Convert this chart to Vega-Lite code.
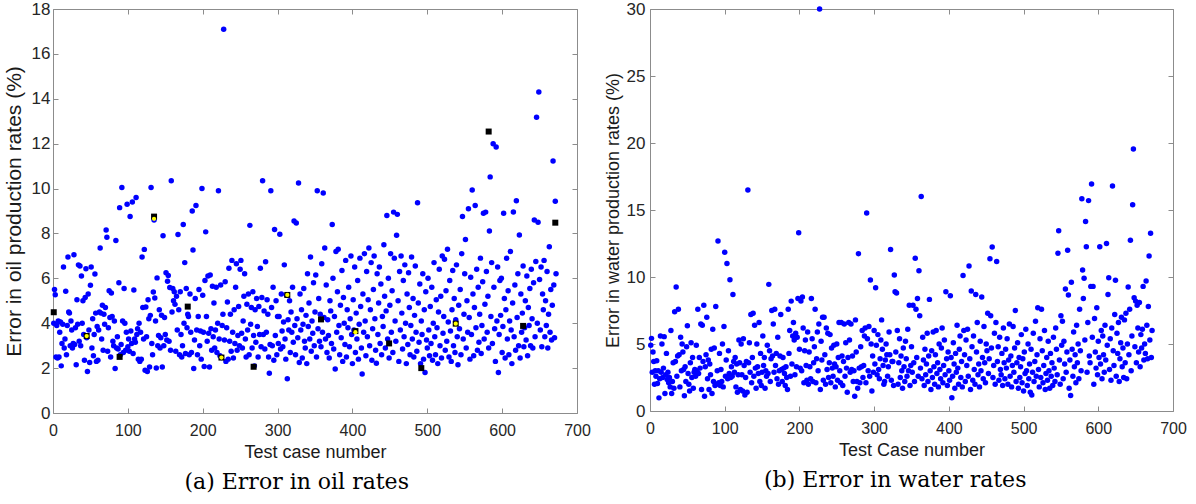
{
"$schema": "https://vega.github.io/schema/vega-lite/v6.json",
"padding": {"left": 2, "top": -1, "right": 5, "bottom": 3},
"background": "white",
"config": {
  "font": "Liberation Sans",
  "view": {"stroke": "#8c8c8c", "strokeWidth": 1},
  "axis": {"domain": false, "grid": false, "labelFlush": false, "labelOverlap": false, "tickColor": "#8c8c8c", "tickSize": -5, "labelFont": "Liberation Sans", "labelFontSize": 16, "labelColor": "#262626", "titleFont": "Liberation Sans", "titleFontSize": 18, "titleFontWeight": "normal", "titleColor": "#1a1a1a"},
  "title": {"font": "DejaVu Serif", "fontSize": 22, "fontWeight": "normal", "color": "black"}
},
"datasets": {
"marked": [{"n":1,"e":4.49},{"n":45,"e":3.43},{"n":89,"e":2.5},{"n":135,"e":8.75},{"n":180,"e":4.74},{"n":225,"e":2.47},{"n":268,"e":2.06},{"n":313,"e":5.26},{"n":358,"e":4.17},{"n":404,"e":3.65},{"n":449,"e":3.1},{"n":492,"e":2.0},{"n":538,"e":3.98},{"n":582,"e":12.54},{"n":628,"e":3.88},{"n":671,"e":8.48}],
"yellow": [{"n":45,"e":3.43},{"n":135,"e":8.65},{"n":225,"e":2.47},{"n":313,"e":5.26},{"n":404,"e":3.6},{"n":538,"e":3.98}],
"cases": [
{"n":1,"oil":4.0,"water":4.9},{"n":2,"oil":5.5,"water":5.42},{"n":3,"oil":5.27,"water":2.9},{"n":4,"oil":2.5,"water":4.4},{"n":5,"oil":3.9,"water":3.7},{"n":6,"oil":2.45,"water":2.0},{"n":7,"oil":4.1,"water":3.0},{"n":8,"oil":2.5,"water":2.6},{"n":9,"oil":3.6,"water":3.75},{"n":10,"oil":4.05,"water":2.05},
{"n":11,"oil":2.1,"water":3.0},{"n":12,"oil":3.1,"water":0.98},{"n":13,"oil":3.95,"water":2.4},{"n":14,"oil":6.5,"water":5.6},{"n":15,"oil":2.9,"water":2.9},{"n":16,"oil":3.3,"water":5.0},{"n":17,"oil":5.42,"water":2.5},{"n":18,"oil":2.6,"water":3.2},{"n":19,"oil":3.9,"water":5.55},{"n":20,"oil":6.95,"water":1.3},
{"n":21,"oil":4.5,"water":2.7},{"n":22,"oil":4.45,"water":4.3},{"n":23,"oil":3.0,"water":2.35},{"n":24,"oil":4.1,"water":2.9},{"n":25,"oil":3.7,"water":2.1},{"n":26,"oil":2.9,"water":2.5},{"n":27,"oil":3.1,"water":1.8},{"n":28,"oil":7.05,"water":6.0},{"n":29,"oil":3.05,"water":1.3},{"n":30,"oil":3.8,"water":2.2},
{"n":31,"oil":2.15,"water":3.6},{"n":32,"oil":5.05,"water":1.7},{"n":33,"oil":3.95,"water":7.4},{"n":34,"oil":6.6,"water":3.7},{"n":35,"oil":3.2,"water":9.25},{"n":36,"oil":6.55,"water":2.6},{"n":37,"oil":3.0,"water":4.1},{"n":38,"oil":6.1,"water":7.6},{"n":39,"oil":4.0,"water":4.2},{"n":40,"oil":5.0,"water":1.8},
{"n":41,"oil":3.5,"water":5.5},{"n":42,"oil":2.35,"water":3.0},{"n":43,"oil":5.15,"water":5.0},{"n":44,"oil":6.43,"water":4.4},{"n":45,"oil":3.35,"water":3.1},{"n":46,"oil":1.85,"water":1.14},{"n":47,"oil":5.3,"water":3.3},{"n":48,"oil":3.7,"water":2.2},{"n":49,"oil":2.25,"water":4.8},{"n":50,"oil":5.69,"water":6.37},
{"n":51,"oil":6.5,"water":2.8},{"n":52,"oil":2.9,"water":2.0},{"n":53,"oil":4.2,"water":1.5},{"n":54,"oil":2.55,"water":3.6},{"n":55,"oil":3.5,"water":5.1},{"n":56,"oil":6.19,"water":2.5},{"n":57,"oil":4.45,"water":4.0},{"n":58,"oil":2.3,"water":1.7},{"n":59,"oil":3.85,"water":2.9},{"n":60,"oil":2.35,"water":3.1},
{"n":61,"oil":3.7,"water":2.6},{"n":62,"oil":4.5,"water":4.9},{"n":63,"oil":7.35,"water":3.0},{"n":64,"oil":4.45,"water":7.6},{"n":65,"oil":3.3,"water":2.8},{"n":66,"oil":4.8,"water":4.0},{"n":67,"oil":2.8,"water":3.2},{"n":68,"oil":4.4,"water":6.5},{"n":69,"oil":3.95,"water":1.6},{"n":70,"oil":4.7,"water":6.4},
{"n":71,"oil":8.15,"water":3.7},{"n":72,"oil":7.83,"water":7.9},{"n":73,"oil":2.75,"water":1.1},{"n":74,"oil":3.8,"water":3.3},{"n":75,"oil":5.45,"water":4.2},{"n":76,"oil":4.25,"water":7.0},{"n":77,"oil":2.5,"water":2.4},{"n":78,"oil":5.35,"water":3.8},{"n":79,"oil":4.3,"water":1.6},{"n":80,"oil":3.2,"water":3.5},
{"n":81,"oil":3.0,"water":2.7},{"n":82,"oil":4.1,"water":4.6},{"n":83,"oil":1.98,"water":1.3},{"n":84,"oil":7.69,"water":6.1},{"n":85,"oil":2.9,"water":2.2},{"n":86,"oil":3.4,"water":4.7},{"n":87,"oil":2.85,"water":1.9},{"n":88,"oil":5.8,"water":7.8},{"n":89,"oil":9.15,"water":2.0},{"n":90,"oil":2.6,"water":3.0},
{"n":91,"oil":3.05,"water":12.69},{"n":92,"oil":10.05,"water":2.1},{"n":93,"oil":4.1,"water":4.3},{"n":94,"oil":2.7,"water":1.9},{"n":95,"oil":5.55,"water":3.1},{"n":96,"oil":4.0,"water":2.2},{"n":97,"oil":2.8,"water":5.0},{"n":98,"oil":3.6,"water":1.8},{"n":99,"oil":9.3,"water":6.3},{"n":100,"oil":2.95,"water":11.84},
{"n":101,"oil":3.3,"water":2.6},{"n":102,"oil":2.75,"water":3.8},{"n":103,"oil":8.75,"water":11.0},{"n":104,"oil":3.65,"water":2.4},{"n":105,"oil":3.1,"water":4.5},{"n":106,"oil":9.4,"water":2.8},{"n":107,"oil":2.65,"water":9.8},{"n":108,"oil":5.48,"water":2.5},{"n":109,"oil":3.3,"water":3.3},{"n":110,"oil":3.15,"water":2.6},
{"n":111,"oil":9.6,"water":8.7},{"n":112,"oil":3.5,"water":3.7},{"n":113,"oil":3.75,"water":2.9},{"n":114,"oil":2.4,"water":4.0},{"n":115,"oil":4.0,"water":1.8},{"n":116,"oil":2.3,"water":3.5},{"n":117,"oil":3.6,"water":1.4},{"n":118,"oil":2.4,"water":2.7},{"n":119,"oil":6.95,"water":5.3},{"n":120,"oil":4.7,"water":3.6},
{"n":121,"oil":3.3,"water":1.6},{"n":122,"oil":7.29,"water":5.0},{"n":123,"oil":1.9,"water":2.7},{"n":124,"oil":4.72,"water":1.5},{"n":125,"oil":3.4,"water":5.4},{"n":126,"oil":1.85,"water":3.4},{"n":127,"oil":5.05,"water":1.2},{"n":128,"oil":4.2,"water":2.5},{"n":129,"oil":2.05,"water":3.7},{"n":130,"oil":4.35,"water":1.4},
{"n":131,"oil":10.05,"water":16.5},{"n":132,"oil":3.1,"water":3.6},{"n":133,"oil":2.6,"water":5.1},{"n":134,"oil":5.39,"water":2.9},{"n":135,"oil":8.6,"water":7.2},{"n":136,"oil":5.12,"water":2.1},{"n":137,"oil":4.1,"water":4.0},{"n":138,"oil":2.0,"water":7.3},{"n":139,"oil":6.02,"water":2.6},{"n":140,"oil":3.0,"water":6.4},
{"n":141,"oil":3.45,"water":3.2},{"n":142,"oil":4.6,"water":1.7},{"n":143,"oil":2.9,"water":5.0},{"n":144,"oil":3.35,"water":3.3},{"n":145,"oil":4.36,"water":2.8},{"n":146,"oil":2.05,"water":6.6},{"n":147,"oil":7.9,"water":2.2},{"n":148,"oil":3.0,"water":4.3},{"n":149,"oil":4.25,"water":1.9},{"n":150,"oil":3.5,"water":2.9},
{"n":151,"oil":6.25,"water":5.6},{"n":152,"oil":3.25,"water":3.4},{"n":153,"oil":5.87,"water":4.0},{"n":154,"oil":6.13,"water":1.7},{"n":155,"oil":3.2,"water":3.0},{"n":156,"oil":5.59,"water":2.6},{"n":157,"oil":2.8,"water":4.9},{"n":158,"oil":10.35,"water":2.8},{"n":159,"oil":4.5,"water":9.45},{"n":160,"oil":5.55,"water":4.5},
{"n":161,"oil":5.0,"water":2.2},{"n":162,"oil":5.4,"water":3.9},{"n":163,"oil":4.84,"water":7.5},{"n":164,"oil":2.75,"water":4.1},{"n":165,"oil":5.2,"water":6.5},{"n":166,"oil":3.7,"water":2.9},{"n":167,"oil":7.95,"water":7.6},{"n":168,"oil":4.6,"water":3.4},{"n":169,"oil":2.6,"water":4.3},{"n":170,"oil":5.4,"water":2.4},
{"n":171,"oil":3.5,"water":5.5},{"n":172,"oil":2.5,"water":2.0},{"n":173,"oil":3.0,"water":3.0},{"n":174,"oil":8.4,"water":4.1},{"n":175,"oil":4.0,"water":7.2},{"n":176,"oil":6.7,"water":3.1},{"n":177,"oil":2.65,"water":2.2},{"n":178,"oil":5.55,"water":4.0},{"n":179,"oil":3.8,"water":3.2},{"n":180,"oil":4.4,"water":2.8},
{"n":181,"oil":4.3,"water":1.9},{"n":182,"oil":2.6,"water":3.3},{"n":183,"oil":5.3,"water":2.5},{"n":184,"oil":3.6,"water":1.6},{"n":185,"oil":2.7,"water":7.6},{"n":186,"oil":9.0,"water":4.3},{"n":187,"oil":7.26,"water":6.0},{"n":188,"oil":1.98,"water":2.6},{"n":189,"oil":3.25,"water":8.2},{"n":190,"oil":5.1,"water":3.5},
{"n":191,"oil":9.25,"water":5.6},{"n":192,"oil":3.7,"water":6.6},{"n":193,"oil":2.6,"water":5.3},{"n":194,"oil":4.3,"water":2.7},{"n":195,"oil":5.5,"water":5.8},{"n":196,"oil":3.0,"water":3.3},{"n":197,"oil":3.65,"water":5.5},{"n":198,"oil":2.4,"water":8.4},{"n":199,"oil":10.0,"water":13.3},{"n":200,"oil":5.25,"water":4.6},
{"n":201,"oil":3.6,"water":3.2},{"n":202,"oil":2.07,"water":8.2},{"n":203,"oil":5.9,"water":3.0},{"n":204,"oil":8.07,"water":8.5},{"n":205,"oil":4.3,"water":6.2},{"n":206,"oil":3.2,"water":2.1},{"n":207,"oil":6.1,"water":4.5},{"n":208,"oil":3.55,"water":5.3},{"n":209,"oil":2.05,"water":3.4},{"n":210,"oil":6.15,"water":2.3},
{"n":211,"oil":3.75,"water":5.9},{"n":212,"oil":2.8,"water":2.0},{"n":213,"oil":5.65,"water":4.4},{"n":214,"oil":3.4,"water":3.3},{"n":215,"oil":4.9,"water":2.4},{"n":216,"oil":2.9,"water":8.4},{"n":217,"oil":3.7,"water":5.4},{"n":218,"oil":5.6,"water":2.2},{"n":219,"oil":2.7,"water":3.6},{"n":220,"oil":4.0,"water":4.8},
{"n":221,"oil":9.9,"water":7.6},{"n":222,"oil":3.3,"water":2.1},{"n":223,"oil":2.55,"water":3.9},{"n":224,"oil":5.7,"water":5.9},{"n":225,"oil":2.47,"water":3.0},{"n":226,"oil":3.9,"water":6.5},{"n":227,"oil":4.4,"water":30.0},{"n":228,"oil":17.1,"water":1.6},{"n":229,"oil":3.25,"water":5.2},{"n":230,"oil":5.85,"water":3.8},
{"n":231,"oil":2.3,"water":7.0},{"n":232,"oil":3.8,"water":2.3},{"n":233,"oil":4.95,"water":7.0},{"n":234,"oil":2.4,"water":4.2},{"n":235,"oil":6.45,"water":2.0},{"n":236,"oil":3.2,"water":6.2},{"n":237,"oil":4.4,"water":3.1},{"n":238,"oil":2.75,"water":5.8},{"n":239,"oil":6.8,"water":2.5},{"n":240,"oil":3.6,"water":3.6},
{"n":241,"oil":2.45,"water":5.7},{"n":242,"oil":4.6,"water":2.1},{"n":243,"oil":3.1,"water":4.7},{"n":244,"oil":5.6,"water":3.2},{"n":245,"oil":6.65,"water":2.6},{"n":246,"oil":2.8,"water":4.9},{"n":247,"oil":3.45,"water":3.5},{"n":248,"oil":4.75,"water":1.8},{"n":249,"oil":3.0,"water":3.3},{"n":250,"oil":6.4,"water":5.0},
{"n":251,"oil":6.8,"water":2.3},{"n":252,"oil":3.55,"water":4.0},{"n":253,"oil":2.9,"water":6.6},{"n":254,"oil":4.1,"water":3.0},{"n":255,"oil":5.2,"water":2.1},{"n":256,"oil":6.2,"water":6.6},{"n":257,"oil":3.3,"water":4.1},{"n":258,"oil":2.5,"water":1.9},{"n":259,"oil":4.85,"water":3.7},{"n":260,"oil":3.7,"water":6.5},
{"n":261,"oil":5.3,"water":2.6},{"n":262,"oil":2.6,"water":5.1},{"n":263,"oil":8.36,"water":3.2},{"n":264,"oil":3.95,"water":1.4},{"n":265,"oil":4.7,"water":4.0},{"n":266,"oil":2.9,"water":6.6},{"n":267,"oil":5.4,"water":5.3},{"n":268,"oil":3.45,"water":2.9},{"n":269,"oil":2.1,"water":6.5},{"n":270,"oil":4.6,"water":3.1},
{"n":271,"oil":3.15,"water":4.1},{"n":272,"oil":5.1,"water":2.2},{"n":273,"oil":3.85,"water":3.0},{"n":274,"oil":2.5,"water":1.1},{"n":275,"oil":4.75,"water":6.8},{"n":276,"oil":3.5,"water":4.4},{"n":277,"oil":6.45,"water":2.2},{"n":278,"oil":2.95,"water":1.7},{"n":279,"oil":5.15,"water":11.74},{"n":280,"oil":10.35,"water":3.2},
{"n":281,"oil":3.5,"water":2.1},{"n":282,"oil":4.55,"water":4.8},{"n":283,"oil":2.85,"water":3.3},{"n":284,"oil":6.74,"water":6.0},{"n":285,"oil":3.6,"water":2.5},{"n":286,"oil":5.05,"water":3.4},{"n":287,"oil":4.4,"water":5.6},{"n":288,"oil":2.5,"water":6.2},{"n":289,"oil":1.77,"water":2.1},{"n":290,"oil":3.05,"water":14.78},
{"n":291,"oil":9.9,"water":5.4},{"n":292,"oil":4.7,"water":3.0},{"n":293,"oil":3.0,"water":6.3},{"n":294,"oil":5.6,"water":2.6},{"n":295,"oil":2.35,"water":9.78},{"n":296,"oil":8.18,"water":5.0},{"n":297,"oil":3.45,"water":1.5},{"n":298,"oil":5.0,"water":4.1},{"n":299,"oil":2.6,"water":2.9},{"n":300,"oil":4.3,"water":6.0},
{"n":301,"oil":3.1,"water":3.5},{"n":302,"oil":4.3,"water":9.2},{"n":303,"oil":7.96,"water":4.9},{"n":304,"oil":2.85,"water":2.7},{"n":305,"oil":5.3,"water":5.7},{"n":306,"oil":3.65,"water":3.1},{"n":307,"oil":2.95,"water":2.4},{"n":308,"oil":4.05,"water":3.9},{"n":309,"oil":6.6,"water":5.3},{"n":310,"oil":3.3,"water":6.8},
{"n":311,"oil":2.4,"water":4.6},{"n":312,"oil":5.25,"water":3.4},{"n":313,"oil":1.53,"water":2.0},{"n":314,"oil":4.15,"water":2.2},{"n":315,"oil":3.7,"water":3.8},{"n":316,"oil":5.0,"water":5.0},{"n":317,"oil":2.7,"water":4.2},{"n":318,"oil":4.5,"water":2.6},{"n":319,"oil":3.6,"water":3.3},{"n":320,"oil":5.6,"water":5.9},
{"n":321,"oil":3.15,"water":4.2},{"n":322,"oil":8.55,"water":12.06},{"n":323,"oil":3.9,"water":2.3},{"n":324,"oil":2.6,"water":3.7},{"n":325,"oil":8.47,"water":3.7},{"n":326,"oil":4.2,"water":1.9},{"n":327,"oil":3.35,"water":10.15},{"n":328,"oil":10.25,"water":8.9},{"n":329,"oil":2.25,"water":4.4},{"n":330,"oil":5.3,"water":8.8},
{"n":331,"oil":3.7,"water":6.0},{"n":332,"oil":4.6,"water":2.0},{"n":333,"oil":2.45,"water":3.6},{"n":334,"oil":3.95,"water":5.4},{"n":335,"oil":5.55,"water":2.5},{"n":336,"oil":3.2,"water":4.1},{"n":337,"oil":2.9,"water":3.0},{"n":338,"oil":4.35,"water":1.7},{"n":339,"oil":2.2,"water":4.7},{"n":340,"oil":6.2,"water":3.3},
{"n":341,"oil":3.85,"water":2.2},{"n":342,"oil":4.9,"water":5.2},{"n":343,"oil":3.3,"water":3.9},{"n":344,"oil":6.95,"water":2.6},{"n":345,"oil":2.75,"water":6.1},{"n":346,"oil":4.1,"water":3.0},{"n":347,"oil":3.55,"water":7.9},{"n":348,"oil":5.8,"water":1.9},{"n":349,"oil":3.0,"water":3.4},{"n":350,"oil":4.5,"water":4.8},
{"n":351,"oil":6.15,"water":2.9},{"n":352,"oil":2.5,"water":7.9},{"n":353,"oil":9.9,"water":3.6},{"n":354,"oil":3.75,"water":2.2},{"n":355,"oil":5.1,"water":11.4},{"n":356,"oil":3.2,"water":7.6},{"n":357,"oil":4.4,"water":4.0},{"n":358,"oil":2.95,"water":8.4},{"n":359,"oil":6.65,"water":2.6},{"n":360,"oil":3.6,"water":10.47},
{"n":361,"oil":9.8,"water":7.1},{"n":362,"oil":4.25,"water":3.2},{"n":363,"oil":7.35,"water":16.0},{"n":364,"oil":3.3,"water":2.4},{"n":365,"oil":5.7,"water":5.5},{"n":366,"oil":2.7,"water":3.8},{"n":367,"oil":4.15,"water":1.9},{"n":368,"oil":3.45,"water":4.6},{"n":369,"oil":2.45,"water":2.7},{"n":370,"oil":5.0,"water":3.5},
{"n":371,"oil":4.55,"water":5.8},{"n":372,"oil":3.1,"water":2.2},{"n":373,"oil":8.4,"water":4.1},{"n":374,"oil":6.0,"water":8.33},{"n":375,"oil":2.85,"water":3.0},{"n":376,"oil":4.3,"water":1.6},{"n":377,"oil":1.96,"water":4.5},{"n":378,"oil":7.2,"water":2.5},{"n":379,"oil":3.6,"water":5.9},{"n":380,"oil":5.4,"water":3.3},
{"n":381,"oil":7.3,"water":2.0},{"n":382,"oil":3.9,"water":4.2},{"n":383,"oil":2.6,"water":6.0},{"n":384,"oil":4.8,"water":2.8},{"n":385,"oil":3.35,"water":3.6},{"n":386,"oil":6.35,"water":1.8},{"n":387,"oil":2.3,"water":5.0},{"n":388,"oil":5.15,"water":3.1},{"n":389,"oil":4.0,"water":2.4},{"n":390,"oil":3.05,"water":4.7},
{"n":391,"oil":6.8,"water":6.2},{"n":392,"oil":2.5,"water":2.1},{"n":393,"oil":4.6,"water":3.4},{"n":394,"oil":3.8,"water":5.3},{"n":395,"oil":5.6,"water":2.7},{"n":396,"oil":2.95,"water":8.9},{"n":397,"oil":4.2,"water":3.9},{"n":398,"oil":7.0,"water":1.9},{"n":399,"oil":3.5,"water":4.4},{"n":400,"oil":2.2,"water":3.0},
{"n":401,"oil":5.05,"water":2.3},{"n":402,"oil":3.7,"water":8.6},{"n":403,"oil":6.5,"water":4.0},{"n":404,"oil":2.7,"water":0.99},{"n":405,"oil":4.45,"water":2.6},{"n":406,"oil":3.3,"water":5.1},{"n":407,"oil":5.9,"water":3.5},{"n":408,"oil":2.4,"water":1.7},{"n":409,"oil":3.95,"water":4.3},{"n":410,"oil":6.9,"water":2.9},
{"n":411,"oil":4.75,"water":6.4},{"n":412,"oil":2.9,"water":3.2},{"n":413,"oil":1.74,"water":2.0},{"n":414,"oil":5.3,"water":4.6},{"n":415,"oil":3.6,"water":5.6},{"n":416,"oil":7.1,"water":2.5},{"n":417,"oil":4.1,"water":3.7},{"n":418,"oil":2.55,"water":1.8},{"n":419,"oil":6.3,"water":10.12},{"n":420,"oil":3.4,"water":6.0},
{"n":421,"oil":5.05,"water":4.2},{"n":422,"oil":7.35,"water":2.2},{"n":423,"oil":3.0,"water":5.3},{"n":424,"oil":4.6,"water":3.4},{"n":425,"oil":6.7,"water":6.1},{"n":426,"oil":2.35,"water":2.6},{"n":427,"oil":3.75,"water":10.82},{"n":428,"oil":5.5,"water":3.9},{"n":429,"oil":7.0,"water":1.6},{"n":430,"oil":4.2,"water":8.96},
{"n":431,"oil":2.8,"water":4.8},{"n":432,"oil":2.22,"water":2.3},{"n":433,"oil":6.2,"water":5.6},{"n":434,"oil":3.5,"water":3.1},{"n":435,"oil":4.9,"water":2.0},{"n":436,"oil":6.5,"water":8.7},{"n":437,"oil":3.1,"water":4.4},{"n":438,"oil":5.75,"water":6.6},{"n":439,"oil":2.6,"water":2.7},{"n":440,"oil":4.3,"water":3.5},
{"n":441,"oil":3.85,"water":1.8},{"n":442,"oil":7.5,"water":5.2},{"n":443,"oil":5.2,"water":3.0},{"n":444,"oil":2.9,"water":8.5},{"n":445,"oil":4.55,"water":4.0},{"n":446,"oil":8.8,"water":2.4},{"n":447,"oil":3.3,"water":6.3},{"n":448,"oil":6.0,"water":3.6},{"n":449,"oil":2.45,"water":2.1},{"n":450,"oil":4.8,"water":5.0},
{"n":451,"oil":7.1,"water":4.5},{"n":452,"oil":3.6,"water":7.3},{"n":453,"oil":5.45,"water":2.8},{"n":454,"oil":2.7,"water":3.9},{"n":455,"oil":8.95,"water":11.37},{"n":456,"oil":6.9,"water":7.1},{"n":457,"oil":4.1,"water":4.7},{"n":458,"oil":3.2,"water":12.24},{"n":459,"oil":7.92,"water":2.5},{"n":460,"oil":8.85,"water":3.4},
{"n":461,"oil":5.0,"water":5.8},{"n":462,"oil":2.3,"water":2.0},{"n":463,"oil":6.3,"water":6.6},{"n":464,"oil":3.7,"water":11.15},{"n":465,"oil":7.0,"water":3.7},{"n":466,"oil":4.45,"water":4.8},{"n":467,"oil":2.85,"water":2.3},{"n":468,"oil":5.9,"water":5.5},{"n":469,"oil":3.4,"water":3.1},{"n":470,"oil":6.6,"water":2.7},
{"n":471,"oil":4.0,"water":4.3},{"n":472,"oil":2.2,"water":1.9},{"n":473,"oil":5.3,"water":6.2},{"n":474,"oil":3.05,"water":3.6},{"n":475,"oil":6.25,"water":2.4},{"n":476,"oil":4.7,"water":4.6},{"n":477,"oil":2.6,"water":3.2},{"n":478,"oil":3.9,"water":5.4},{"n":479,"oil":6.95,"water":2.0},{"n":480,"oil":3.3,"water":3.8},
{"n":481,"oil":5.1,"water":6.5},{"n":482,"oil":2.5,"water":2.6},{"n":483,"oil":4.35,"water":4.1},{"n":484,"oil":6.55,"water":1.8},{"n":485,"oil":3.6,"water":3.4},{"n":486,"oil":2.75,"water":6.3},{"n":487,"oil":9.37,"water":2.9},{"n":488,"oil":4.9,"water":4.7},{"n":489,"oil":3.15,"water":7.5},{"n":490,"oil":5.75,"water":2.2},
{"n":491,"oil":2.2,"water":3.6},{"n":492,"oil":4.1,"water":5.1},{"n":493,"oil":3.5,"water":1.7},{"n":494,"oil":6.2,"water":4.0},{"n":495,"oil":2.4,"water":2.5},{"n":496,"oil":4.6,"water":3.3},{"n":497,"oil":1.8,"water":5.7},{"n":498,"oil":5.4,"water":2.1},{"n":499,"oil":3.25,"water":3.9},{"n":500,"oil":2.9,"water":1.5},
{"n":501,"oil":6.0,"water":4.4},{"n":502,"oil":3.7,"water":2.8},{"n":503,"oil":2.55,"water":6.1},{"n":504,"oil":4.75,"water":3.0},{"n":505,"oil":3.1,"water":1.9},{"n":506,"oil":5.6,"water":5.0},{"n":507,"oil":2.35,"water":2.4},{"n":508,"oil":4.0,"water":3.5},{"n":509,"oil":6.7,"water":1.4},{"n":510,"oil":3.4,"water":4.6},
{"n":511,"oil":2.6,"water":1.2},{"n":512,"oil":5.05,"water":2.9},{"n":513,"oil":3.8,"water":5.8},{"n":514,"oil":2.2,"water":2.2},{"n":515,"oil":4.5,"water":3.7},{"n":516,"oil":6.4,"water":6.7},{"n":517,"oil":3.0,"water":2.6},{"n":518,"oil":5.2,"water":4.2},{"n":519,"oil":2.45,"water":7.7},{"n":520,"oil":7.0,"water":3.1},
{"n":521,"oil":3.55,"water":1.8},{"n":522,"oil":4.3,"water":5.4},{"n":523,"oil":6.85,"water":2.5},{"n":524,"oil":2.8,"water":7.6},{"n":525,"oil":5.45,"water":4.5},{"n":526,"oil":3.2,"water":2.1},{"n":527,"oil":7.3,"water":3.4},{"n":528,"oil":4.05,"water":6.0},{"n":529,"oil":2.5,"water":1.6},{"n":530,"oil":5.9,"water":2.8},
{"n":531,"oil":3.65,"water":4.0},{"n":532,"oil":2.3,"water":2.3},{"n":533,"oil":4.6,"water":5.2},{"n":534,"oil":6.35,"water":3.0},{"n":535,"oil":3.0,"water":1.7},{"n":536,"oil":5.1,"water":4.3},{"n":537,"oil":2.7,"water":2.6},{"n":538,"oil":4.15,"water":3.6},{"n":539,"oil":6.6,"water":1.9},{"n":540,"oil":3.4,"water":5.5},
{"n":541,"oil":2.15,"water":3.2},{"n":542,"oil":4.8,"water":2.2},{"n":543,"oil":3.75,"water":6.2},{"n":544,"oil":5.5,"water":4.6},{"n":545,"oil":2.6,"water":2.7},{"n":546,"oil":7.1,"water":11.77},{"n":547,"oil":8.76,"water":13.46},{"n":548,"oil":3.3,"water":3.8},{"n":549,"oil":4.4,"water":2.0},{"n":550,"oil":6.2,"water":7.1},
{"n":551,"oil":7.73,"water":4.9},{"n":552,"oil":2.9,"water":6.7},{"n":553,"oil":5.0,"water":2.4},{"n":554,"oil":3.6,"water":5.2},{"n":555,"oil":9.1,"water":3.5},{"n":556,"oil":4.25,"water":9.1},{"n":557,"oil":2.4,"water":2.9},{"n":558,"oil":6.05,"water":4.4},{"n":559,"oil":3.5,"water":11.99},{"n":560,"oil":9.94,"water":8.66},
{"n":561,"oil":5.3,"water":1.7},{"n":562,"oil":2.55,"water":3.8},{"n":563,"oil":4.7,"water":1.15},{"n":564,"oil":9.24,"water":9.6},{"n":565,"oil":3.8,"water":4.6},{"n":566,"oil":6.4,"water":2.6},{"n":567,"oil":2.8,"water":5.9},{"n":568,"oil":5.6,"water":3.3},{"n":569,"oil":3.15,"water":4.2},{"n":570,"oil":4.4,"water":2.1},
{"n":571,"oil":6.9,"water":6.4},{"n":572,"oil":2.65,"water":3.6},{"n":573,"oil":3.9,"water":5.0},{"n":574,"oil":5.85,"water":2.4},{"n":575,"oil":8.9,"water":7.6},{"n":576,"oil":3.3,"water":4.5},{"n":577,"oil":4.85,"water":3.0},{"n":578,"oil":8.95,"water":15.84},{"n":579,"oil":6.3,"water":10.52},{"n":580,"oil":3.6,"water":8.4},
{"n":581,"oil":5.2,"water":9.9},{"n":582,"oil":2.9,"water":5.3},{"n":583,"oil":8.11,"water":14.15},{"n":584,"oil":10.52,"water":12.26},{"n":585,"oil":4.3,"water":2.9},{"n":586,"oil":6.7,"water":6.6},{"n":587,"oil":3.1,"water":15.7},{"n":588,"oil":12.0,"water":4.1},{"n":589,"oil":5.6,"water":3.6},{"n":590,"oil":3.75,"water":9.3},
{"n":591,"oil":2.3,"water":16.94},{"n":592,"oil":11.85,"water":5.5},{"n":593,"oil":4.1,"water":9.3},{"n":594,"oil":6.5,"water":2.0},{"n":595,"oil":1.8,"water":6.9},{"n":596,"oil":3.5,"water":4.4},{"n":597,"oil":5.9,"water":3.2},{"n":598,"oil":4.35,"water":7.7},{"n":599,"oil":6.0,"water":2.7},{"n":600,"oil":2.7,"water":5.2},
{"n":601,"oil":3.85,"water":4.0},{"n":602,"oil":8.9,"water":12.26},{"n":603,"oil":5.1,"water":3.5},{"n":604,"oil":2.45,"water":6.0},{"n":605,"oil":4.6,"water":2.4},{"n":606,"oil":6.89,"water":5.6},{"n":607,"oil":3.3,"water":4.2},{"n":608,"oil":5.45,"water":2.9},{"n":609,"oil":2.6,"water":6.4},{"n":610,"oil":4.1,"water":3.8},
{"n":611,"oil":7.2,"water":12.5},{"n":612,"oil":3.7,"water":4.9},{"n":613,"oil":2.2,"water":8.7},{"n":614,"oil":4.9,"water":9.95},{"n":615,"oil":8.96,"water":3.1},{"n":616,"oil":3.4,"water":5.4},{"n":617,"oil":5.7,"water":2.3},{"n":618,"oil":2.8,"water":6.2},{"n":619,"oil":9.46,"water":16.79},{"n":620,"oil":4.25,"water":4.5},
{"n":621,"oil":6.2,"water":3.4},{"n":622,"oil":3.0,"water":7.2},{"n":623,"oil":7.93,"water":9.75},{"n":624,"oil":2.45,"water":2.6},{"n":625,"oil":5.3,"water":5.8},{"n":626,"oil":3.6,"water":4.3},{"n":627,"oil":4.45,"water":6.6},{"n":628,"oil":6.55,"water":2.2},{"n":629,"oil":2.95,"water":3.9},{"n":630,"oil":3.8,"water":5.1},
{"n":631,"oil":5.0,"water":7.0},{"n":632,"oil":3.25,"water":3.3},{"n":633,"oil":6.1,"water":4.7},{"n":634,"oil":2.55,"water":2.5},{"n":635,"oil":4.7,"water":6.8},{"n":636,"oil":3.9,"water":3.6},{"n":637,"oil":5.55,"water":7.3},{"n":638,"oil":3.0,"water":2.4},{"n":639,"oil":6.4,"water":5.0},{"n":640,"oil":4.2,"water":9.25},
{"n":641,"oil":2.9,"water":4.2},{"n":642,"oil":5.8,"water":7.6},{"n":643,"oil":8.6,"water":12.74},{"n":644,"oil":3.4,"water":3.0},{"n":645,"oil":6.75,"water":5.6},{"n":646,"oil":13.18,"water":15.4},{"n":647,"oil":4.0,"water":19.55},{"n":648,"oil":8.5,"water":8.45},{"n":649,"oil":14.3,"water":4.8},{"n":650,"oil":5.95,"water":8.2},
{"n":651,"oil":3.7,"water":3.6},{"n":652,"oil":6.5,"water":7.9},{"n":653,"oil":2.95,"water":6.2},{"n":654,"oil":5.3,"water":4.4},{"n":655,"oil":4.6,"water":8.1},{"n":656,"oil":6.8,"water":3.3},{"n":657,"oil":3.4,"water":5.7},{"n":658,"oil":5.0,"water":4.7},{"n":659,"oil":3.9,"water":6.1},{"n":660,"oil":6.3,"water":9.3},
{"n":661,"oil":2.9,"water":3.8},{"n":662,"oil":4.4,"water":5.0},{"n":663,"oil":7.41,"water":4.3},{"n":664,"oil":3.6,"water":9.7},{"n":665,"oil":5.5,"water":6.4},{"n":666,"oil":3.25,"water":3.9},{"n":667,"oil":4.8,"water":7.8},{"n":668,"oil":11.23,"water":11.57},{"n":669,"oil":5.7,"water":5.3},{"n":670,"oil":3.35,"water":13.26},
{"n":671,"oil":9.43,"water":4.0},{"n":672,"oil":6.2,"water":6.0}
]
},
"spacing": 73,
"bounds": "flush",
"hconcat": [
{
  "width": 524, "height": 404,
  "title": {"text": "(a) Error in oil rates", "orient": "bottom", "anchor": "middle", "frame": "bounds", "offset": 11},
  "layer": [
    {"data": {"name": "cases"},
     "mark": {"type": "circle", "size": 30, "color": "#0000ff", "opacity": 1},
     "encoding": {
       "x": {"field": "n", "type": "quantitative", "scale": {"domain": [0, 700], "nice": false},
             "axis": {"orient": "bottom", "values": [0,100,200,300,400,500,600,700], "title": "Test case number", "labelPadding": 14, "titlePadding": 5}},
       "y": {"field": "oil", "type": "quantitative", "scale": {"domain": [0, 18], "nice": false},
             "axis": {"orient": "left", "values": [0,2,4,6,8,10,12,14,16,18], "title": "Error in oil production rates (%)", "labelPadding": 8, "titlePadding": 7, "labelFontSize": 17, "titleFontSize": 21}}
     }},
    {"data": {"name": "marked"},
     "mark": {"type": "square", "size": 36, "color": "#000000", "opacity": 1},
     "encoding": {
       "x": {"field": "n", "type": "quantitative", "axis": {"orient": "top", "values": [0,100,200,300,400,500,600,700], "labels": false, "title": null}},
       "y": {"field": "e", "type": "quantitative", "axis": {"orient": "right", "values": [0,2,4,6,8,10,12,14,16,18], "labels": false, "title": null}}
     }},
    {"data": {"name": "yellow"},
     "mark": {"type": "circle", "size": 18, "color": "#ffff00", "opacity": 1},
     "encoding": {
       "x": {"field": "n", "type": "quantitative", "axis": null},
       "y": {"field": "e", "type": "quantitative", "axis": null}
     }}
  ],
  "resolve": {"axis": {"x": "independent", "y": "independent"}}
},
{
  "width": 523, "height": 402,
  "title": {"text": "(b) Error in water rates", "orient": "bottom", "anchor": "middle", "frame": "bounds", "offset": 11},
  "data": {"name": "cases"},
  "layer": [
    {"transform": [{"filter": "datum.n <= 336"}],
     "mark": {"type": "circle", "size": 30, "color": "#0000ff", "opacity": 1},
     "encoding": {
       "x": {"field": "n", "type": "quantitative", "scale": {"domain": [0, 700], "nice": false},
             "axis": {"orient": "bottom", "values": [0,100,200,300,400,500,600,700], "title": "Test Case number", "labelPadding": 14, "titlePadding": 5}},
       "y": {"field": "water", "type": "quantitative", "scale": {"domain": [0, 30], "nice": false},
             "axis": {"orient": "left", "values": [0,5,10,15,20,25,30], "title": "Error in water production rates (%)", "labelPadding": 10, "titlePadding": 4, "labelFontSize": 17}}
     }},
    {"transform": [{"filter": "datum.n > 336"}],
     "mark": {"type": "circle", "size": 30, "color": "#0000ff", "opacity": 1},
     "encoding": {
       "x": {"field": "n", "type": "quantitative", "axis": {"orient": "top", "values": [0,100,200,300,400,500,600,700], "labels": false, "title": null}},
       "y": {"field": "water", "type": "quantitative", "axis": {"orient": "right", "values": [0,5,10,15,20,25,30], "labels": false, "title": null}}
     }}
  ],
  "resolve": {"axis": {"x": "independent", "y": "independent"}}
}
]
}
